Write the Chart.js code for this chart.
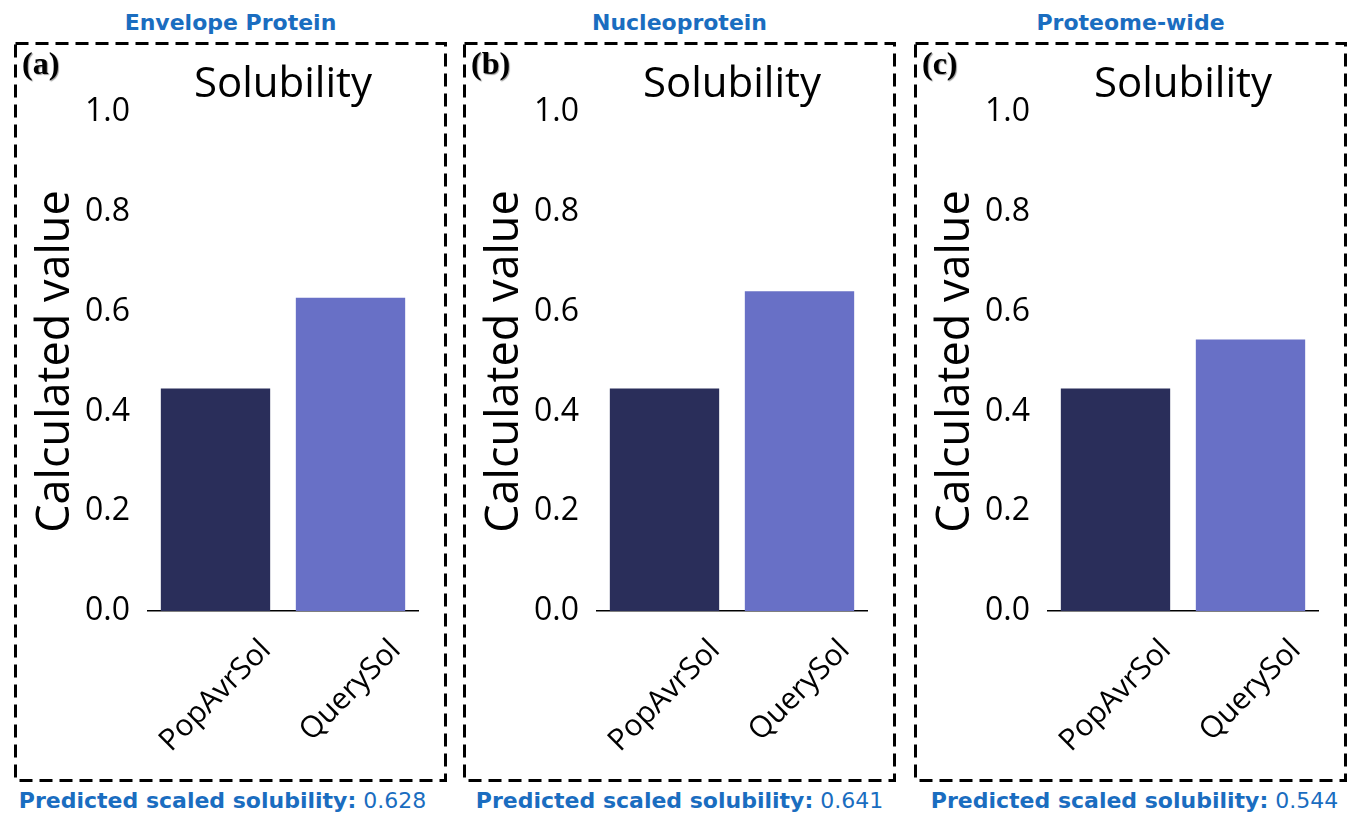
<!DOCTYPE html>
<html><head><meta charset="utf-8">
<script src="https://cdn.jsdelivr.net/npm/chart.js@4.4.1/dist/chart.umd.min.js"></script>
<style>
body{margin:0;background:#fff;width:1356px;height:816px;position:relative;overflow:hidden;font-family:'DejaVu Sans',sans-serif;}
.head{position:absolute;top:12px;width:433px;text-align:center;color:#1a6dc0;font-weight:bold;font-size:22px;line-height:22px;white-space:nowrap}
.foot{position:absolute;top:790px;width:433px;text-align:center;color:#1a6dc0;font-size:22px;line-height:22px;white-space:nowrap}
.foot b{font-weight:bold}
.tag{position:absolute;top:47px;font-family:'Liberation Serif',serif;font-weight:bold;font-size:32px;line-height:32px;color:#000;text-shadow:1px 1px 1px #999}
canvas{position:absolute;top:42px}
</style></head>
<body>
<script>
const categories = ['PopAvrSol', 'QuerySol'];
const panelHeadings = ['Envelope Protein', 'Nucleoprotein', 'Proteome-wide'];
const panelTags = ['(a)', '(b)', '(c)'];
const popAvrSol = [0.446, 0.446, 0.446];
const querySol = [0.628, 0.641, 0.544];
const predictedLabels = ['0.628', '0.641', '0.544'];
const chartTitle = 'Solubility';
const yAxisTitle = 'Calculated value';
const yTickStep = 0.2;

const panelLefts = [14, 463, 914];
const footOffsets = [-8, 0, 4];
const W = 433, H = 740;

const panelPlugin = {
  id: 'panel',
  beforeDraw(chart) {
    const ctx = chart.ctx;
    ctx.save();
    ctx.strokeStyle = '#000';
    ctx.lineWidth = 3;
    ctx.setLineDash([13, 7]);
    ctx.strokeRect(1.5, 1.5, chart.width - 3, chart.height - 3);
    ctx.restore();
  },
  afterDraw(chart) {
    const ctx = chart.ctx, a = chart.chartArea, x = chart.scales.x;
    ctx.save();
    ctx.fillStyle = '#000';
    ctx.font = "42px 'Open Sans'";
    ctx.textAlign = 'center';
    ctx.textBaseline = 'alphabetic';
    ctx.fillText(chartTitle, (a.left + a.right) / 2, 55);
    const fs = 30;
    ctx.font = fs + "px 'Open Sans'";
    ctx.textBaseline = 'middle';
    chart.data.labels.forEach((lab, i) => {
      const px = x.getPixelForValue(i);
      const L = ctx.measureText(lab).width;
      const h = fs * 1.17;
      const cy = a.bottom + 22 + (L + h) / (2 * Math.SQRT2);
      ctx.save();
      ctx.translate(px, cy);
      ctx.rotate(-Math.PI / 4);
      ctx.fillText(lab, 0, 0);
      ctx.restore();
    });
    ctx.restore();
  }
};

panelHeadings.forEach((heading, i) => {
  const left = panelLefts[i];
  const hd = document.createElement('div');
  hd.className = 'head'; hd.style.left = left + 'px'; hd.textContent = heading;
  document.body.appendChild(hd);

  const ft = document.createElement('div');
  ft.className = 'foot'; ft.style.left = (left + footOffsets[i]) + 'px';
  ft.innerHTML = '<b>Predicted scaled solubility:</b> ' + predictedLabels[i];
  document.body.appendChild(ft);

  const cv = document.createElement('canvas');
  cv.width = W; cv.height = H;
  cv.style.left = left + 'px';
  cv.style.width = W + 'px'; cv.style.height = H + 'px';
  document.body.appendChild(cv);

  const tg = document.createElement('div');
  tg.className = 'tag'; tg.style.left = (left + 8) + 'px'; tg.textContent = panelTags[i];
  document.body.appendChild(tg);

  new Chart(cv, {
    type: 'bar',
    data: {
      labels: categories,
      datasets: [{
        data: [popAvrSol[i], querySol[i]],
        backgroundColor: ['#2a2e5a', '#6870c6'],
        borderWidth: 0,
        barPercentage: 0.81,
        categoryPercentage: 1
      }]
    },
    options: {
      responsive: false,
      animation: false,
      devicePixelRatio: 1,
      layout: { padding: { top: 70, right: 29 } },
      plugins: { legend: { display: false }, tooltip: { enabled: false }, title: { display: false } },
      scales: {
        x: {
          grid: { display: false, drawTicks: false },
          border: { display: true, color: '#000', width: 1.5 },
          ticks: { display: false },
          afterFit(s) { s.height = 171; }
        },
        y: {
          min: 0, max: 1,
          grid: { display: false, drawTicks: false },
          border: { display: false },
          ticks: {
            stepSize: yTickStep,
            padding: 18,
            color: '#000',
            font: { family: 'Open Sans', size: 32 },
            callback: v => Number(v).toFixed(1)
          },
          title: {
            display: true,
            text: yAxisTitle,
            color: '#000',
            font: { family: 'Open Sans', size: 45, lineHeight: 1 },
            padding: { top: 20, bottom: 0 }
          },
          afterFit(s) { s.width = 134; }
        }
      }
    },
    plugins: [panelPlugin]
  });
});
</script>
</body></html>
